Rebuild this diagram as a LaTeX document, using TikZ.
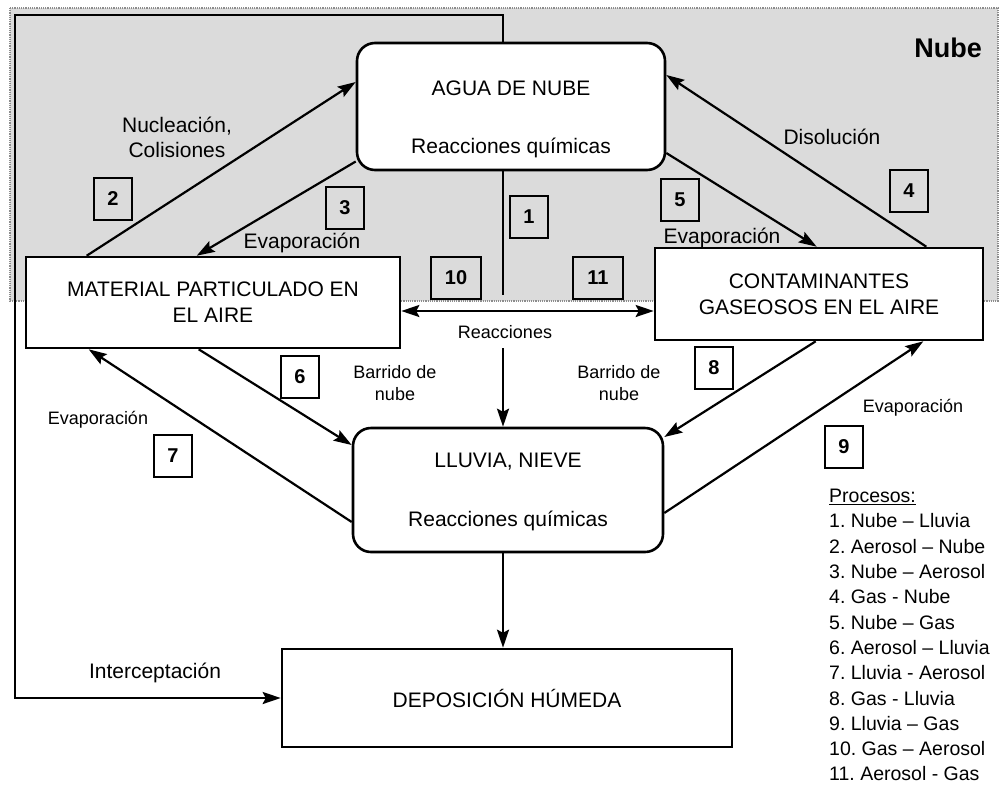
\documentclass[tikz,border=0pt]{standalone}
\usepackage{fontspec}
\setmainfont{Liberation Sans}
\usepackage{tikz}
\usetikzlibrary{arrows.meta}
\tikzstyle{nube} = [rectangle, rounded corners=18pt, draw=black, fill=white, line width=2.6pt, inner sep=0pt, align=center, font=\fontsize{21}{25}\selectfont]
\tikzstyle{caja} = [rectangle, draw=black, fill=white, line width=2.6pt, inner sep=0pt, align=center, font=\fontsize{21}{26}\selectfont]
\tikzstyle{num} = [rectangle, draw=black, line width=2.3pt, minimum width=38pt, minimum height=42pt, inner sep=0pt, font=\fontsize{20}{22}\selectfont\bfseries]
\tikzstyle{rotulo} = [align=center, inner sep=0pt, font=\fontsize{21}{25}\selectfont]
\tikzstyle{rotulochico} = [align=center, inner sep=0pt, font=\fontsize{18}{22}\selectfont]
\tikzstyle{arrow} = [line width=2.2pt, ->, >={Stealth[length=18pt, width=12pt, inset=3pt]}]
\tikzstyle{linea} = [line width=2.2pt]

\begin{document}
\begin{tikzpicture}[x=1pt, y=-1pt]

\useasboundingbox (0,0) rectangle (1003,788);
\fill [black!14] (10,8) rectangle (998,301);
\draw [black!45, densely dotted, line width=1.2pt] (10,8) rectangle (998,301);

\node (agua) [nube, minimum width=308pt, minimum height=127pt] at (511,106.5) {\rule{0pt}{41pt}AGUA DE NUBE\\[33pt]Reacciones químicas};
\node (material) [caja, minimum width=374pt, minimum height=91pt] at (213,302.5) {MATERIAL PARTICULADO EN\\EL AIRE};
\node (contam) [caja, minimum width=328pt, minimum height=92pt] at (819,294) {CONTAMINANTES\\GASEOSOS EN EL AIRE};
\node (lluvia) [nube, minimum width=310pt, minimum height=124pt] at (508,490) {\rule{0pt}{19pt}LLUVIA, NIEVE\\[34pt]Reacciones químicas};
\node (deposicion) [caja, minimum width=450pt, minimum height=98pt] at (507,698) {DEPOSICIÓN HÚMEDA};

\node (nombre) [font=\fontsize{27}{30}\selectfont\bfseries] at (948,48) {Nube};

\node (n1) [num] at (529,217) {1};
\node (n2) [num] at (113,199) {2};
\node (n3) [num] at (345,208) {3};
\node (n4) [num] at (909,191) {4};
\node (n5) [num] at (680,200) {5};
\node (n6) [num] at (300,377) {6};
\node (n7) [num] at (173,456) {7};
\node (n8) [num] at (714,368) {8};
\node (n9) [num] at (844,447) {9};
\node (n10) [num, minimum width=50pt] at (456,278) {10};
\node (n11) [num, minimum width=50pt] at (598,278) {11};

\node (nucleacion) [rotulo] at (177,137) {Nucleación,\\Colisiones};
\node (evapnube) [rotulo] at (302,243) {Evaporación};
\node (disolucion) [rotulo] at (832,137) {Disolución};
\node (evapgas) [rotulo] at (722,238) {Evaporación};
\node (barridoizq) [rotulochico] at (395,383) {Barrido de\\nube};
\node (barridoder) [rotulochico] at (619,383) {Barrido de\\nube};
\node (evaplluvia) [rotulochico] at (98,420) {Evaporación};
\node (evapcontam) [rotulochico] at (913,408) {Evaporación};
\node (reacciones) [rotulochico] at (505,332) {Reacciones};
\node (intercepcion) [rotulo] at (155,673) {Interceptación};

\node (procesos) [anchor=north west, align=left, inner sep=0pt, font=\fontsize{19.5}{25.3}\selectfont\frenchspacing] at (829,489) {\underline{Procesos:}\\1. Nube – Lluvia\\2. Aerosol – Nube\\3. Nube – Aerosol\\4. Gas - Nube\\5. Nube – Gas\\6. Aerosol – Lluvia\\7. Lluvia - Aerosol\\8. Gas - Lluvia\\9. Lluvia – Gas\\10. Gas – Aerosol\\11. Aerosol - Gas};

\coordinate (esq) at (15,15);
\coordinate (v1) at (503,295);
\coordinate (v2) at (503,348);
\coordinate (h) at (0,311);

\draw [arrow] (agua.north -| v1) |- (esq) |- (deposicion.west);
\draw [linea] (agua.south -| v1) -- (v1);
\draw [arrow] (v2) -- (lluvia.north -| v2);
\draw [arrow, <->] (material.east |- h) -- (contam.west |- h);
\draw [arrow] ([xshift=62pt]material.north west) -- ([yshift=24.5pt]agua.west);
\draw [arrow] ([yshift=-55pt]agua.west) -- ([xshift=172pt]material.north west);
\draw [arrow] ([xshift=-58pt]contam.north east) -- ([yshift=31.5pt]agua.east);
\draw [arrow] ([yshift=-46.5pt]agua.east) -- ([xshift=163pt]contam.north west);
\draw [arrow] ([xshift=174pt]material.south west) -- ([yshift=45pt]lluvia.west);
\draw [arrow] ([yshift=-32pt]lluvia.west) -- ([xshift=64pt]material.south west);
\draw [arrow] ([xshift=162pt]contam.south west) -- ([yshift=53pt]lluvia.east);
\draw [arrow] ([yshift=-23pt]lluvia.east) -- ([xshift=-61pt]contam.south east);
\draw [arrow] (lluvia.south -| v1) -- (deposicion.north -| v1);

\end{tikzpicture}
\end{document}
